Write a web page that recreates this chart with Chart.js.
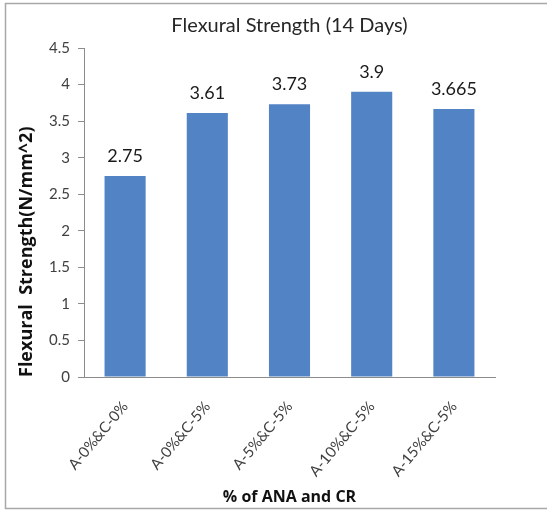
<!DOCTYPE html>
<html>
<head>
<meta charset="utf-8">
<script src="https://cdn.jsdelivr.net/npm/chart.js@4/dist/chart.umd.min.js"></script>
<style>
  html, body { margin: 0; padding: 0; background: #ffffff; }
  canvas { display: block; }
</style>
</head>
<body>
<canvas id="chart" width="547" height="510"></canvas>
<script>
// Flexural strength at 14 days for each ANA / CR replacement mix
const categories = ['A-0%&C-0%', 'A-0%&C-5%', 'A-5%&C-5%', 'A-10%&C-5%', 'A-15%&C-5%'];
const strengthValues = [2.75, 3.61, 3.73, 3.9, 3.665];
const yAxisMin = 0;
const yAxisMax = 4.5;
const yAxisStep = 0.5;

const FONT = 'Lato, "Open Sans", sans-serif';
const TITLE_FONT = '"Open Sans", Lato, sans-serif';

// Grey frame around the chart (left, top and bottom edges)
const framePlugin = {
  id: 'frame',
  afterDraw(chart) {
    const ctx = chart.ctx;
    ctx.save();
    ctx.strokeStyle = '#a8a8a8';
    ctx.lineWidth = 1.5;
    ctx.beginPath();
    ctx.moveTo(chart.width, 3.5);
    ctx.lineTo(5.5, 3.5);
    ctx.lineTo(5.5, 508.5);
    ctx.lineTo(chart.width, 508.5);
    ctx.stroke();
    ctx.restore();
  }
};

// Value printed above each bar
const valueLabelPlugin = {
  id: 'valueLabels',
  afterDatasetsDraw(chart) {
    const meta = chart.getDatasetMeta(0);
    const ctx = chart.ctx;
    ctx.save();
    ctx.font = '18px ' + FONT;
    ctx.fillStyle = '#1a1a1a';
    ctx.textAlign = 'center';
    ctx.textBaseline = 'alphabetic';
    meta.data.forEach((bar, i) => {
      ctx.fillText(String(strengthValues[i]), bar.x, bar.y - 14);
    });
    ctx.restore();
  }
};

new Chart(document.getElementById('chart'), {
  type: 'bar',
  data: {
    labels: categories,
    datasets: [{
      data: strengthValues,
      backgroundColor: '#5283c4',
      borderWidth: 0,
      barPercentage: 0.5,
      categoryPercentage: 1.0
    }]
  },
  options: {
    responsive: false,
    animation: false,
    devicePixelRatio: 1,
    layout: { padding: { left: 5, right: 52, top: 0, bottom: 0 } },
    plugins: {
      legend: { display: false },
      tooltip: { enabled: false },
      title: {
        display: true,
        fullSize: false,
        text: 'Flexural Strength (14 Days)',
        color: '#262626',
        font: { family: FONT, size: 20, weight: 'normal' },
        padding: { top: 14, bottom: 10 }
      }
    },
    scales: {
      x: {
        grid: { display: false },
        border: { display: true, color: '#8c8c8c', width: 1 },
        ticks: {
          autoSkip: false,
          minRotation: 50,
          maxRotation: 50,
          color: '#404040',
          font: { family: FONT, size: 15 },
          padding: 13
        },
        title: {
          display: true,
          text: '% of ANA and CR',
          color: '#111111',
          font: { family: TITLE_FONT, size: 16, weight: 'bold' },
          padding: { top: 4, bottom: 3 }
        },
        afterFit(scale) { scale.height = 133; }
      },
      y: {
        min: yAxisMin,
        max: yAxisMax,
        ticks: {
          stepSize: yAxisStep,
          color: '#404040',
          font: { family: FONT, size: 15 },
          padding: 8,
          callback: (value) => String(value)
        },
        grid: { drawOnChartArea: false, drawTicks: true, tickLength: 6, color: '#8c8c8c' },
        border: { display: true, color: '#8c8c8c', width: 1 },
        title: {
          display: true,
          text: 'Flexural  Strength(N/mm^2)',
          align: 'start',
          color: '#111111',
          font: { family: TITLE_FONT, size: 18, weight: 'bold' },
          padding: { top: 11, bottom: 0 }
        },
        afterFit(scale) { scale.width = 79; }
      }
    }
  },
  plugins: [framePlugin, valueLabelPlugin]
});
</script>
</body>
</html>
